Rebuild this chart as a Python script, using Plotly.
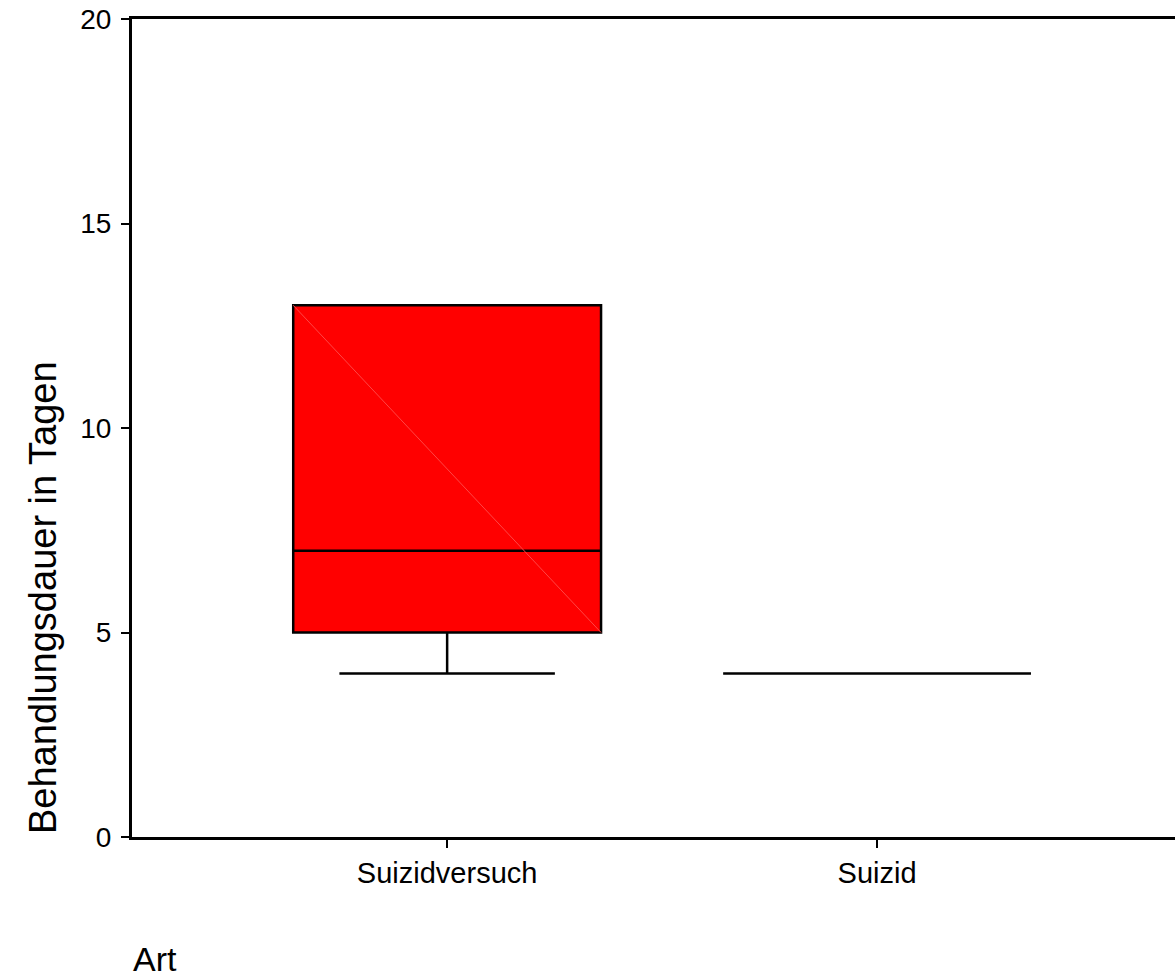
import plotly.graph_objects as go

categories = ["Suizidversuch", "Suizid"]
q1 = [5, 4]
median = [7, 4]
q3 = [13, 4]
lower_fence = [4, 4]
upper_fence = [13, 4]
y_ticks = [0, 5, 10, 15, 20]

BOX_WIDTH = 0.716
FONT = "Liberation Sans, Arial, sans-serif"

fig = go.Figure()
fig.add_trace(go.Box(
    x=categories,
    q1=q1, median=median, q3=q3,
    lowerfence=lower_fence, upperfence=upper_fence,
    width=BOX_WIDTH,
    whiskerwidth=0.7,
    fillcolor="#FF0000",
    line=dict(color="black", width=2.5),
    boxpoints=False,
    showlegend=False,
    hoverinfo="skip",
))

# faint diagonal artefact inside the first box (derived from data)
fig.add_shape(type="line", xref="x", yref="y",
              x0=0 - BOX_WIDTH / 2, y0=q3[0], x1=0 + BOX_WIDTH / 2, y1=q1[0],
              line=dict(color="rgb(255,70,70)", width=1), layer="above")

fig.update_layout(
    width=1175, height=977,
    margin=dict(l=132, r=0, t=19, b=140),
    plot_bgcolor="white", paper_bgcolor="white",
    font=dict(family=FONT, color="black"),
    xaxis=dict(
        type="category",
        range=[-0.733, 1.693],
        showgrid=False, zeroline=False,
        showline=True, linecolor="black", linewidth=3, mirror=True,
        ticks="outside", ticklen=8, tickwidth=2, tickcolor="black",
        tickfont=dict(size=29, family=FONT, color="black"),
    ),
    yaxis=dict(
        range=[0, 20],
        tickvals=y_ticks,
        showgrid=False, zeroline=False,
        showline=True, linecolor="black", linewidth=3,
        ticks="outside", ticklen=8, tickwidth=2, tickcolor="black",
        tickfont=dict(size=28, family=FONT, color="black"),
        ticklabelstandoff=4,
    ),
    annotations=[
        dict(text="Behandlungsdauer in Tagen", textangle=-90,
             xref="paper", yref="paper", x=(43 - 132) / 1043, y=(837 - 598) / 818,
             xanchor="center", yanchor="middle", showarrow=False,
             font=dict(size=38, family=FONT, color="black")),
        dict(text="Art", xref="paper", yref="paper",
             x=(131 - 132) / 1043, y=(837 - 959) / 818,
             xanchor="left", yanchor="middle", showarrow=False,
             font=dict(size=34, family=FONT, color="black")),
    ],
)

fig.write_html(
    "out.html",
    config={"displayModeBar": False},
    post_script="document.body.style.margin='0';document.body.style.overflow='hidden';",
)
